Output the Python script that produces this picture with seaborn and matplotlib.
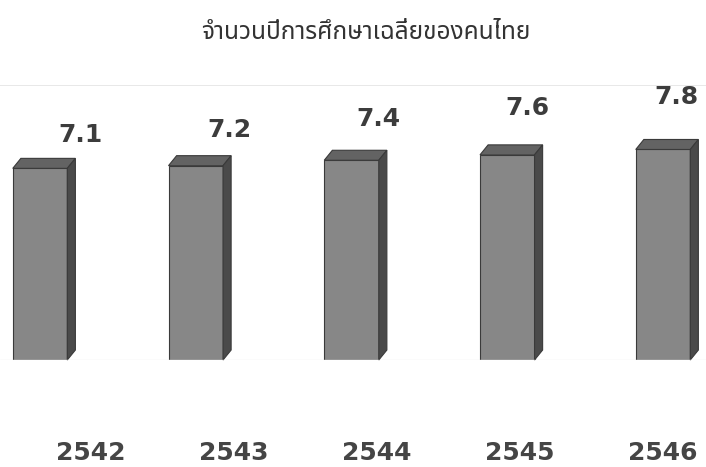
import matplotlib
matplotlib.use('Agg')
import numpy as np
import pandas as pd
import matplotlib.pyplot as plt
import seaborn as sns
from matplotlib import font_manager
from matplotlib.patches import Polygon

#%% Datos
years = ['2542', '2543', '2544', '2545', '2546']
avg_years = [7.1, 7.2, 7.4, 7.6, 7.8]
title = 'จำนวนปีการศึกษาเฉลี่ยของคนไทย'

df = pd.DataFrame({'year': years, 'value': avg_years})

#%% Fuente thai disponible
installed = set(f.name for f in font_manager.fontManager.ttflist)
thai_font = 'DejaVu Sans'
for cand in ['Noto Sans Thai', 'Noto Sans Thai Looped', 'Sarabun', 'Tahoma', 'Prompt', 'Kanit']:
    if cand in installed:
        thai_font = cand
        break

sns.set_style('white')
plt.rcParams['font.family'] = ['DejaVu Sans']

#%% Grafica
fig = plt.figure(figsize=(7.06, 4.67), dpi=100)
ax = fig.add_axes([0, 0.2291, 1, 0.589])

sns.barplot(data=df, x='year', y='value', color='#878787', width=0.35,
            saturation=1, edgecolor='#3a3a3a', linewidth=0.8, ax=ax)

ax.set_xlim(-0.257, 4.276)
ax.set_ylim(0, 10.19)

# caras superior y lateral (efecto 3D)
dx, dy = 0.052, 0.37
for p in ax.patches:
    x0 = p.get_x()
    w = p.get_width()
    h = p.get_height()
    top = Polygon([(x0, h), (x0 + dx, h + dy), (x0 + w + dx, h + dy), (x0 + w, h)],
                  closed=True, facecolor='#636363', edgecolor='#3a3a3a', lw=0.8, clip_on=False)
    side = Polygon([(x0 + w, 0), (x0 + w + dx, dy), (x0 + w + dx, h + dy), (x0 + w, h)],
                   closed=True, facecolor='#4a4a4a', edgecolor='#3a3a3a', lw=0.8, clip_on=False)
    ax.add_patch(top)
    ax.add_patch(side)

# linea tenue superior y base
ax.axhline(10.19, color='#e4e4e4', lw=1.2)
ax.axhline(0, color='#ececec', lw=1)

for s in ax.spines.values():
    s.set_visible(False)
ax.set_yticks([])
ax.set_xticks([])
ax.set_xlabel('')
ax.set_ylabel('')

# etiquetas de valor (eje x propio, vista en perspectiva)
ax_lab = ax.twiny()
ax_lab.set_xlim(-0.537, 4.2)
ax_lab.axis('off')
for i, v in enumerate(avg_years):
    ax_lab.text(i, v + 1.23 + (v - avg_years[0]), f'{v}', ha='center', va='center',
                fontsize=18, fontweight='bold', color='#3c3c3c', clip_on=False)

# etiquetas de anio
ax_yr = ax.twiny()
ax_yr.set_xlim(-0.636, 4.3)
ax_yr.xaxis.set_ticks_position('bottom')
ax_yr.set_xticks(range(len(years)))
ax_yr.set_xticklabels(years, fontweight='bold')
ax_yr.tick_params(axis='x', length=0, pad=58, labelsize=18, labelcolor='#454545')
for s in ax_yr.spines.values():
    s.set_visible(False)

fig.text(0.518, 0.93, title, ha='center', va='center', fontsize=17.6,
         color='#333333', family=[thai_font, 'DejaVu Sans'])

fig.savefig('out.png', dpi=100)
